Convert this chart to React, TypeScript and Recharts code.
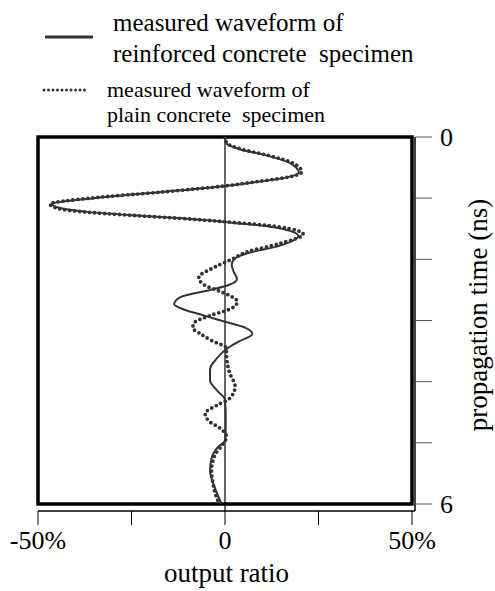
import React from 'react';
import { LineChart, Line, XAxis, YAxis, ReferenceLine, ReferenceArea, Legend, Label } from 'recharts';

const FONT = "'Liberation Serif', 'Times New Roman', serif";

// propagation time (ns) and output ratio (%) of the plain concrete specimen
const plainTime = [0, 0.1, 0.2, 0.3, 0.43, 0.57, 0.65, 0.73, 0.8, 0.9, 1.0, 1.095, 1.17, 1.22, 1.28, 1.33, 1.385, 1.47, 1.59, 1.74, 1.88, 2.0, 2.12, 2.3, 2.42, 2.52, 2.6, 2.69, 2.8, 2.92, 3.05, 3.12, 3.22, 3.33, 3.45, 3.65, 3.85, 4.08, 4.27, 4.38, 4.52, 4.65, 4.76, 4.9, 5.05, 5.2, 5.45, 5.7, 5.85, 6.0];
const plainRatio = [0, 0.5, 4.5, 11.5, 18.3, 20.5, 17.4, 8.5, 0, -17, -36, -46.8, -44.5, -38.5, -25, -12, 0, 14.5, 20.9, 14.7, 5.8, 1.8, -2.5, -7, -5.5, -1.5, 1.5, 3.3, 1.8, -4, -8.4, -8.6, -6.5, -3.5, 0.3, 0.5, 1.2, 2.7, 1.3, -2, -5.3, -4.2, -1.3, 0.4, -0.9, -2.7, -3.6, -3.1, -2.5, -1.5];

// propagation time (ns) and output ratio (%) of the reinforced concrete specimen
const reinforcedTime = [0, 0.1, 0.2, 0.3, 0.43, 0.58, 0.66, 0.74, 0.8, 0.9, 1.0, 1.1, 1.17, 1.22, 1.28, 1.33, 1.39, 1.48, 1.62, 1.78, 1.9, 1.98, 2.09, 2.2, 2.32, 2.42, 2.5, 2.62, 2.73, 2.82, 2.92, 3.02, 3.12, 3.22, 3.35, 3.47, 3.62, 3.8, 3.98, 4.14, 4.3, 4.6, 4.95, 5.08, 5.25, 5.46, 5.72, 6.0];
const reinforcedRatio = [0, 0.3, 4, 11, 17.5, 19.7, 16.5, 8, 0, -17, -35, -46.2, -43.5, -37.5, -24.5, -11.5, 0, 13.5, 19.6, 14.5, 6, 2.8, 1.8, 2.3, 3.2, 1, -4, -12, -13.6, -11, -5.5, 0, 5.5, 7.3, 3.5, 0.3, -2.2, -4, -4, -2.2, 0, 0.2, 0.1, -2, -3.6, -4, -2.8, -0.9];

const xTicks = [-50, -25, 0, 25, 50];
const xTickLabels: Record<number, string> = { [-50]: '-50%', 0: '0', 50: '50%' };
const yTicks = [0, 1, 2, 3, 4, 5, 6];
const yTickLabels: Record<number, string> = { 0: '0', 6: '6' };

const reinforcedName = ['measured waveform of', 'reinforced concrete\u00A0 specimen'];
const plainName = ['measured waveform of', 'plain concrete\u00A0 specimen'];
const xLabel = 'output ratio';
const yLabel = 'propagation time (ns)';

const plainData = plainTime.map((t, i) => ({ t, v: plainRatio[i] }));
const reinforcedData = reinforcedTime.map((t, i) => ({ t, v: reinforcedRatio[i] }));

const renderLegend = () => (
  <svg width={495} height={132} style={{ display: 'block' }}>
    <line x1={45} y1={37} x2={93} y2={37} stroke="#333" strokeWidth={3} />
    <text x={113} y={31} fontSize={25} fontFamily={FONT} fill="#000">{reinforcedName[0]}</text>
    <text x={113} y={62} fontSize={25} fontFamily={FONT} fill="#000">{reinforcedName[1]}</text>
    <line x1={44} y1={90} x2={89} y2={90} stroke="#333" strokeWidth={3} strokeDasharray="0 4.5" strokeLinecap="round" />
    <text x={107} y={97} fontSize={22} fontFamily={FONT} fill="#000">{plainName[0]}</text>
    <text x={107} y={122} fontSize={22} fontFamily={FONT} fill="#000">{plainName[1]}</text>
  </svg>
);

const renderYLabel = (props: any) => {
  const vb = props.viewBox || { x: 415, y: 137, width: 80, height: 374 };
  const cx = vb.x + vb.width - 17;
  const cy = vb.y + vb.height / 2 - 9;
  return (
    <text
      x={cx}
      y={cy}
      transform={`rotate(-90 ${cx} ${cy})`}
      textAnchor="middle"
      dominantBaseline="central"
      fontSize={27}
      fontFamily={FONT}
      fill="#000"
    >
      {yLabel}
    </text>
  );
};

export default function App() {
  return (
    <div style={{ position: 'fixed', left: 0, top: 0, width: 495, height: 591, background: '#fff', fontFamily: FONT }}>
      <LineChart
        width={495}
        height={591}
        layout="vertical"
        margin={{ top: 137, right: 0, bottom: 0, left: 38 }}
      >
        <XAxis
          type="number"
          domain={[-50, 50]}
          ticks={xTicks}
          interval={0}
          allowDataOverflow
          height={80}
          padding={{ left: 0, right: 3 }}
          tickSize={14}
          tickMargin={6}
          axisLine={{ stroke: '#000', strokeWidth: 1.5 }}
          tickLine={{ stroke: '#000', strokeWidth: 1 }}
          tick={{ fontSize: 26, fill: '#000', fontFamily: FONT }}
          tickFormatter={(v: number) => xTickLabels[v] ?? ''}
        >
          <Label value={xLabel} position="insideBottom" offset={9} fontSize={27} fill="#000" fontFamily={FONT} />
        </XAxis>
        <YAxis
          type="number"
          dataKey="t"
          orientation="right"
          domain={[0, 6]}
          ticks={yTicks}
          interval={0}
          allowDataOverflow
          width={80}
          padding={{ top: 0, bottom: 7 }}
          tickSize={17}
          tickMargin={8}
          axisLine={{ stroke: '#000', strokeWidth: 1.5 }}
          tickLine={{ stroke: '#555', strokeWidth: 1 }}
          tick={{ fontSize: 26, fill: '#000', fontFamily: FONT }}
          tickFormatter={(v: number) => yTickLabels[v] ?? ''}
        >
          <Label content={renderYLabel} />
        </YAxis>
        <ReferenceArea x1={-50} x2={50} y1={0} y2={6} fill="none" fillOpacity={0} stroke="#000" strokeWidth={3.5} ifOverflow="visible" />
        <ReferenceLine x={0} stroke="#000" strokeWidth={1.2} />
        <Legend
          layout="horizontal"
          verticalAlign="middle"
          align="center"
          wrapperStyle={{ top: 0, left: 0, width: 495, height: 132 }}
          content={renderLegend}
        />
        <Line
          data={reinforcedData}
          dataKey="v"
          name="measured waveform of reinforced concrete specimen"
          type="monotone"
          stroke="#333"
          strokeWidth={2}
          dot={false}
          activeDot={false}
          isAnimationActive={false}
        />
        <Line
          data={plainData}
          dataKey="v"
          name="measured waveform of plain concrete specimen"
          type="monotone"
          stroke="#333"
          strokeWidth={3.8}
          strokeDasharray="0 5"
          strokeLinecap="round"
          dot={false}
          activeDot={false}
          isAnimationActive={false}
        />
      </LineChart>
    </div>
  );
}
